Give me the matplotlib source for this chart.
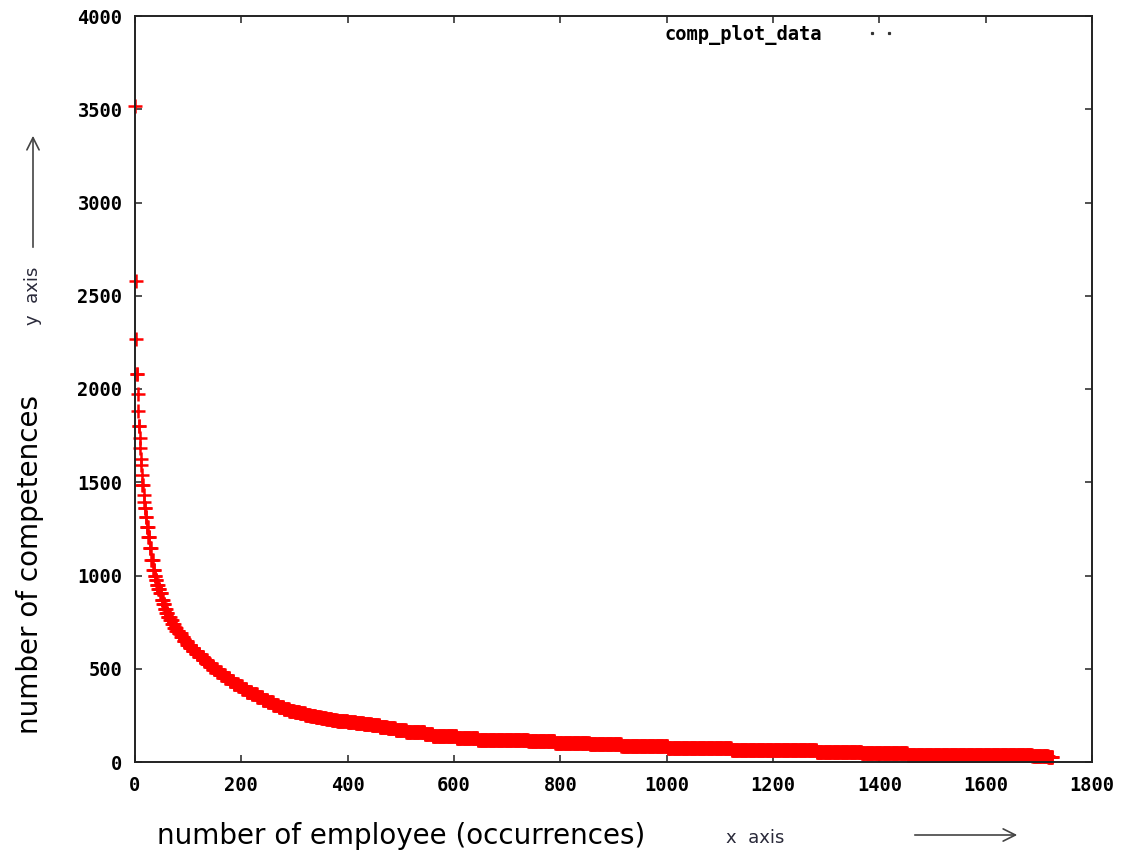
import numpy as np
import matplotlib
matplotlib.use("Agg")
import matplotlib.pyplot as plt
from matplotlib.lines import Line2D

# sorted counts, each value held for a run of consecutive employees (x = index)
run_values = [3520, 2580, 2270, 2080, 1973, 1884, 1803, 1736, 1682, 1623, 1592, 1539,
              1485, 1432, 1396, 1360, 1315, 1262, 1208, 1146, 1083, 1030, 1000, 976,
              950, 925, 905, 870, 845, 820, 800,
              779, 760, 740, 720, 705,
              690, 670, 650, 630, 612, 595, 578, 562, 545, 528, 510, 496, 482,
              466, 450, 434, 420, 405, 390,
              376, 362, 348, 334, 320, 306, 294, 284, 276, 268, 261, 254, 248, 242,
              237, 232, 227, 222, 218,
              214, 209, 203, 196, 189, 181,
              170, 160, 150, 141, 131, 120, 112, 104, 95, 85, 76, 66, 56, 48, 40, 33, 29]
run_counts = [1, 1, 1, 2, 1, 1, 2, 1, 1, 1, 1, 1,
              2, 1, 1, 2, 2, 3, 3, 3, 3, 3, 2, 2,
              3, 3, 3, 3, 3, 3, 3,
              4, 4, 4, 4, 4,
              5, 5, 6, 6, 6, 6, 6, 7, 7, 6, 6, 7, 7,
              8, 8, 8, 8, 8, 8,
              10, 10, 10, 10, 10, 10, 10, 10, 10, 10, 10, 10, 10, 10,
              10, 10, 10, 10, 10,
              15, 15, 15, 15, 15, 15,
              20, 35, 15, 45, 40, 95, 50, 65, 60, 87, 120, 160, 85, 86, 235, 30, 8]
xticks = [0, 200, 400, 600, 800, 1000, 1200, 1400, 1600, 1800]
yticks = [0, 500, 1000, 1500, 2000, 2500, 3000, 3500, 4000]

y = np.repeat(run_values, run_counts)
x = np.arange(len(y))

W, H = 1134, 857
fig = plt.figure(figsize=(W / 100, H / 100), dpi=100)
ax = fig.add_axes([135 / W, 1 - 762 / H, 957 / W, 746 / H])

ax.plot(x, y, ls="none", marker="+", ms=9.6, mew=1.8, color="#ff0000",
        clip_on=False, antialiased=False, zorder=2)

ax.set_xlim(0, 1800)
ax.set_ylim(0, 4000)
ax.set_xticks(xticks)
ax.set_yticks(yticks)
tick_font = dict(family="DejaVu Sans Mono", weight="bold", size=13.5)
ax.set_xticklabels([str(t) for t in xticks], fontdict=tick_font)
ax.set_yticklabels([str(t) for t in yticks], fontdict=tick_font)
ax.tick_params(direction="in", top=True, right=True, length=5, width=1.1,
               color="#222222")
ax.tick_params(axis="x", pad=10)
ax.tick_params(axis="y", pad=9)
for s in ax.spines.values():
    s.set_linewidth(1.4)
    s.set_color("#222222")

# legend: text then two tiny dots
h = Line2D([], [], ls="none", marker="s", ms=1.3, color="#333333")
ax.legend([h], ["comp_plot_data"], loc="center right",
          bbox_to_anchor=(0.794, 0.975), numpoints=2, markerfirst=False,
          frameon=False, handlelength=1.5, handletextpad=2.4, borderpad=0,
          borderaxespad=0, prop=tick_font)

# axis titles and hand-drawn arrows
fig.text(30 / W, 1 - 565 / H, "number of competences", rotation=90,
         ha="center", va="center", fontsize=20, color="black")
fig.text(401 / W, 1 - 836 / H, "number of employee (occurrences)",
         ha="center", va="center", fontsize=20, color="black")
fig.text(755 / W, 1 - 838 / H, "x  axis", ha="center", va="center",
         fontsize=13, color="#2a2a3a")
fig.text(33 / W, 1 - 296 / H, "y  axis", rotation=90, ha="center",
         va="center", fontsize=13, color="#2a2a3a")

arrow = dict(arrowstyle="->", lw=1.2, color="#444444", mutation_scale=22)
ax.annotate("", xy=(1020, H - 835), xytext=(912, H - 835),
            xycoords="figure pixels", textcoords="figure pixels",
            arrowprops=arrow)
ax.annotate("", xy=(33, H - 133), xytext=(33, H - 250),
            xycoords="figure pixels", textcoords="figure pixels",
            arrowprops=arrow)

fig.savefig("out.png", dpi=100)
